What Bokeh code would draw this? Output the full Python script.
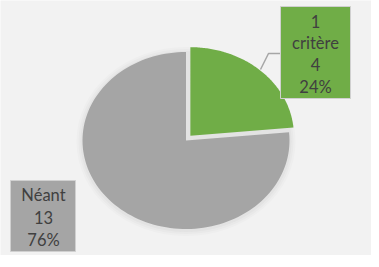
import numpy as np
from bokeh.plotting import figure
from bokeh.models import Range1d, ColumnDataSource
from bokeh.core.properties import value
from bokeh.embed import file_html
from bokeh.resources import INLINE

# ---- data ----
categories = ["1 critère", "Néant"]
label_lines = [["1", "critère"], ["Néant"]]
counts = [4, 13]
colors = ["#70ad47", "#a5a5a5"]

total = sum(counts)
fractions = [c / total for c in counts]
pcts = [f"{round(f * 100)}%" for f in fractions]

# ---- layout constants (pixel-like data space) ----
W, H = 371, 255
p = figure(width=W, height=H, output_backend="svg", toolbar_location=None,
           x_range=Range1d(8, 8 + W), y_range=Range1d(8 + H, 8),
           min_border=0)
p.axis.visible = False
p.grid.visible = False
p.outline_line_color = None
p.background_fill_color = "#f2f2f2"
p.border_fill_color = "#f2f2f2"

cx, cy, rx, ry = 193.5, 148.0, 103.5, 88.5
explode = [6.5, 0.0]

# soft shadow
for k, a in [(6, 0.03), (4, 0.04), (2, 0.06)]:
    p.ellipse(x=cx, y=cy + 1, width=2 * (rx + k), height=2 * (ry + k),
              fill_color="#808080", fill_alpha=a, line_color=None)

start = 90.0
for i, f in enumerate(fractions):
    sweep = f * 360.0
    a = np.radians(np.linspace(start, start - sweep, 120))
    mid = np.radians(start - sweep / 2)
    ox = explode[i] * np.cos(mid)
    oy = -explode[i] * np.sin(mid)
    xs = [cx + ox] + list(cx + ox + rx * np.cos(a)) + [cx + ox]
    ys = [cy + oy] + list(cy + oy - ry * np.sin(a)) + [cy + oy]
    p.patch(xs, ys, fill_color=colors[i], line_color=None)
    start -= sweep

# leader line for the green label
p.line([288, 276, 268], [61, 61, 77], line_color="#a6a6a6", line_width=1.5)

# label boxes
boxes = [dict(l=288, r=358, t=14, b=106, tx=323, ty0=29, dy=21.7),
         dict(l=18, r=83, t=188, b=259, tx=51, ty0=202, dy=22.5)]
for i, b in enumerate(boxes):
    p.quad(left=b["l"], right=b["r"], top=b["t"], bottom=b["b"],
           fill_color=colors[i], line_color="#d0d0d0", line_width=1)
    lines = label_lines[i] + [str(counts[i]), pcts[i]]
    src = ColumnDataSource(dict(x=[b["tx"]] * len(lines),
                                y=[b["ty0"] + j * b["dy"] for j in range(len(lines))],
                                t=lines))
    p.text(x="x", y="y", text="t", source=src, text_align="center",
           text_baseline="middle", text_color="#404040",
           text_font=value("Lato"), text_font_size="16.5px")

open("out.html", "w").write(file_html(p, INLINE))
